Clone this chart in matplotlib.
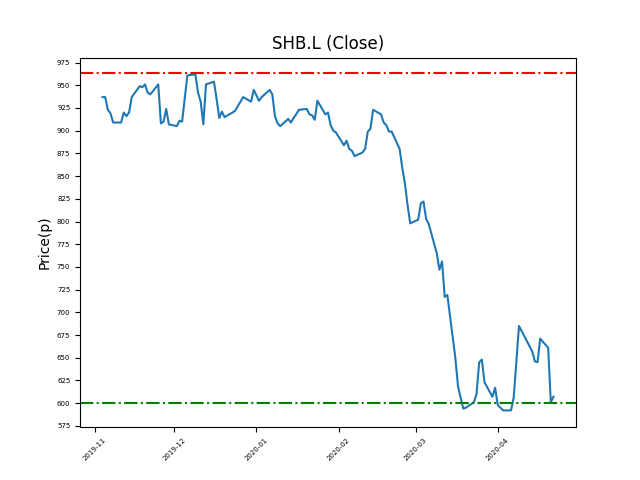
import numpy as np
import pandas as pd
import matplotlib
matplotlib.use('Agg')
import matplotlib.pyplot as plt
import matplotlib.dates as mdates
from matplotlib.ticker import MultipleLocator

ticker = 'SHB.L'
holidays = ['2019-12-25', '2019-12-26', '2020-01-01', '2020-04-10', '2020-04-13']
dates = pd.bdate_range('2019-11-04', '2020-04-22')
dates = dates[~dates.isin(pd.to_datetime(holidays))]

close = [
    937, 937, 923, 919, 909,   # Nov 4-8
    909, 920, 916, 920, 937,
    949, 948, 951, 942, 940,
    951, 908, 910, 924, 907,
    905, 911, 910, 936, 961,   # Dec 2-6
    962, 942, 932, 907, 951,
    954, 935, 914, 921, 915,
    920, 922, 937,
    932, 945, 933, 937,
    945, 940, 916, 908, 905,   # Jan 6-10
    913, 909, 914, 918, 923,
    924, 918, 917, 912, 933,
    918, 920, 906, 900, 898,
    884, 889, 880, 878, 872,   # Feb 3-7
    876, 880, 899, 902, 923,
    918, 909, 906, 899, 899,
    880, 859, 842, 818, 798,
    802, 820, 822, 803, 797,   # Mar 2-6
    765, 747, 756, 717, 719,
    650, 619, 606, 594, 595,
    601, 610, 645, 648, 623,
    607, 617, 598, 595, 592,
    592, 606, 645, 685,        # Apr 6-9
    657, 646, 645, 671,
    661, 601, 607,
]

resistance = 963
support = 600

fig, ax = plt.subplots(figsize=(6.4, 4.8), dpi=100)
ax.plot(dates, close, color='C0', linewidth=1.5)
ax.axhline(resistance, color='r', linestyle='-.', linewidth=1.5)
ax.axhline(support, color='g', linestyle='-.', linewidth=1.5)

ax.set_title(f'{ticker} (Close)')
ax.set_ylabel('Price(p)')
ax.xaxis.set_major_locator(mdates.MonthLocator())
ax.xaxis.set_major_formatter(mdates.DateFormatter('%Y-%m'))
ax.yaxis.set_major_locator(MultipleLocator(25))
ax.tick_params(axis='both', labelsize=5)
plt.setp(ax.get_xticklabels(), rotation=45)

plt.savefig('out.png')
